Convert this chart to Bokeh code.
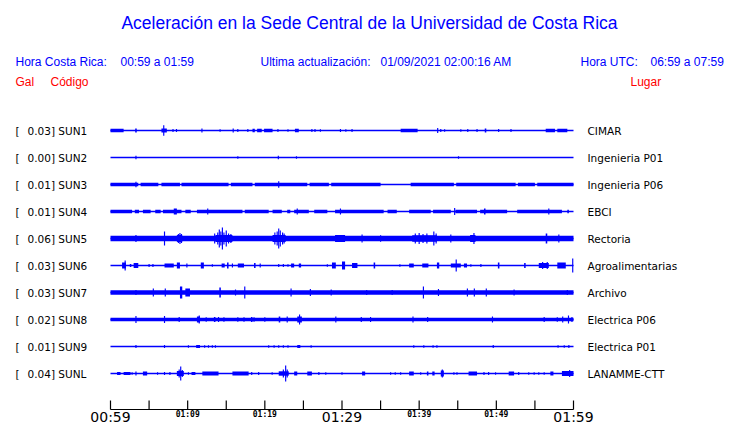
from bokeh.plotting import figure
from bokeh.models import Range1d, Label
from bokeh.core.properties import value
from bokeh.embed import file_html
from bokeh.resources import INLINE

# ---------------- data ----------------
codes = ["SUN1", "SUN2", "SUN3", "SUN4", "SUN5", "SUN6", "SUN7", "SUN8", "SUN9", "SUNL"]
peaks = ["0.03", "0.00", "0.01", "0.01", "0.06", "0.03", "0.03", "0.02", "0.01", "0.04"]
places = ["CIMAR", "Ingenieria P01", "Ingenieria P06", "EBCI", "Rectoria",
          "Agroalimentarias", "Archivo", "Electrica P06", "Electrica P01", "LANAMME-CTT"]

tick_minutes = [0, 10, 20, 30, 40, 50, 60]
tick_labels = ["00:59", "01:09", "01:19", "01:29", "01:39", "01:49", "01:59"]
tick_big = [True, False, False, True, False, False, True]
minor_minutes = [0, 5, 10, 15, 20, 25, 30, 35, 40, 45, 50, 55, 60]

# envelope events per station: (start minute, end minute, half amplitude)
sun1_events = [(0, 1.7, 1.7), (3.2, 3.4, 2), (6.6, 7.3, 2), (6.9, 6.9, 5.3), (8.1, 8.1, 1.5),
               (8.55, 8.55, 1.5), (11.8, 11.9, 2), (14.2, 14.2, 1.2), (15.9, 15.9, 2), (16.5, 16.5, 1.5),
               (17.8, 17.8, 1.5), (18.4, 18.7, 1.7), (19.0, 19.6, 1.7), (19.9, 21.0, 1.7), (21.7, 21.7, 1.5),
               (23.0, 23.0, 1.2), (23.9, 24.4, 1.7), (26.1, 26.1, 1.5), (26.5, 26.5, 1.5), (27.2, 27.2, 1.2),
               (29.8, 29.8, 1.5), (30.5, 30.5, 1.2), (31.3, 31.3, 1.5), (37.6, 39.8, 1.7), (42.4, 42.4, 2.5),
               (42.8, 42.8, 1.5), (43.3, 43.3, 1.2), (45.4, 45.4, 1.2), (46.3, 46.3, 1.5), (47.5, 47.5, 1.5),
               (48.5, 48.7, 2), (50.3, 50.3, 1.5), (51.9, 51.9, 1.5), (56.4, 57.6, 1.7), (57.9, 59.2, 1.7)]
sun2_events = [(3.3, 3.3, 1.7), (16.5, 16.5, 1.2), (21.7, 21.8, 1.7), (24.1, 24.1, 1.2), (45.1, 45.1, 1.2)]
sun3_events = [(0, 3.6, 1.7), (3.9, 6.2, 1.7), (6.6, 9.0, 1.7), (9.2, 15.3, 1.7), (15.6, 18.4, 1.7),
               (18.7, 25.5, 1.7), (25.8, 28.3, 1.7), (28.6, 35.0, 1.7), (38.9, 44.5, 1.7), (44.8, 52.5, 1.7),
               (52.8, 55.0, 1.7), (55.3, 60, 1.7), (3.3, 3.3, 2.7), (21.8, 21.8, 3.3)]
sun4_events = [(0, 2.8, 1.7), (3.15, 3.7, 1.7), (4.2, 5.2, 1.7), (5.8, 6.5, 1.7), (6.8, 9.2, 1.7),
               (9.7, 10.4, 1.7), (11.2, 17.1, 1.7), (17.4, 20.5, 1.7), (21.0, 22.2, 1.7), (22.9, 23.3, 1.7),
               (23.8, 25.7, 1.7), (26.4, 28.1, 1.7), (29.1, 35.4, 1.7), (35.9, 37.1, 1.7), (38.7, 41.5, 1.7),
               (41.8, 44.1, 1.7), (44.7, 47.5, 1.7), (47.9, 51.4, 1.7), (52.7, 58.5, 1.7), (59.2, 59.4, 1.7),
               (8.2, 8.6, 3), (12.6, 12.6, 3), (24.2, 24.2, 3), (29.8, 29.8, 3), (44.6, 44.6, 3.5),
               (48.4, 48.6, 3), (56.8, 56.8, 3)]
sun5_events = [(0, 60, 2.7), (3.3, 3.3, 3.5), (7.0, 7.0, 7), (8.6, 9.3, 3.5), (8.8, 8.8, 4.5),
               (9.0, 9.0, 5.5), (9.2, 9.2, 4.5),
               (13.6, 15.8, 3.5), (13.5, 13.5, 5), (13.9, 13.9, 6), (14.1, 14.1, 9), (14.3, 14.3, 7),
               (14.5, 14.5, 11), (14.7, 14.7, 6), (15.0, 15.0, 8), (15.3, 15.3, 5), (15.6, 15.6, 4.5),
               (21.0, 22.7, 3.5), (21.3, 21.3, 6), (21.6, 21.6, 7), (21.8, 21.8, 10), (22.0, 22.0, 8),
               (22.3, 22.3, 6), (22.5, 22.5, 5),
               (29.1, 30.4, 3.5), (32.6, 32.6, 4), (35.0, 35.0, 3.2),
               (39.1, 42.3, 3.3), (39.5, 39.5, 5), (40.0, 40.0, 5.5), (40.5, 40.5, 4.5), (41.0, 41.0, 5),
               (41.9, 41.9, 7), (42.2, 42.2, 5), (44.1, 44.1, 4), (46.6, 47.3, 3.5),
               (47.1, 47.1, 5.5), (56.4, 56.6, 5), (58.1, 58.1, 4)]
sun6_events = [(1.5, 2.0, 3), (1.9, 1.9, 5), (2.5, 2.7, 1.5), (3.0, 3.6, 2.5), (5.0, 5.0, 1.5),
               (5.5, 5.5, 1.5), (7.0, 8.2, 2), (8.6, 9.0, 3), (9.9, 9.9, 2), (11.7, 12.1, 3),
               (13.2, 13.2, 1.2), (14.4, 14.8, 2), (15.1, 15.3, 3), (15.8, 15.8, 2), (16.5, 17.3, 2),
               (18.6, 18.8, 2.5), (19.4, 19.4, 2), (21.8, 21.8, 1.5), (22.4, 22.4, 1.5), (23.0, 23.0, 1.2),
               (23.4, 23.8, 2), (24.4, 24.7, 2), (28.1, 28.1, 1.2), (28.7, 29.2, 3), (30.0, 30.4, 4),
               (31.3, 32.0, 2.5), (34.1, 34.3, 3), (37.5, 37.5, 1.2), (38.7, 39.3, 2), (40.4, 41.2, 2),
               (42.3, 42.6, 3), (44.1, 45.4, 2), (44.8, 44.8, 6), (45.8, 46.2, 2), (46.7, 46.7, 1.2),
               (48.0, 48.0, 1.5), (50.2, 50.4, 3), (53.6, 53.8, 2.5), (55.5, 56.8, 2.5), (56.0, 56.0, 3.5),
               (56.6, 56.6, 3.5), (57.9, 59.0, 3), (59.9, 59.9, 7)]
sun7_events = [(0, 60, 2.2), (3.3, 3.3, 2.5), (5.5, 5.6, 4), (7.1, 7.1, 4), (9.0, 9.3, 6),
               (9.7, 10.3, 4), (14.1, 14.3, 5), (16.2, 16.2, 3), (17.4, 17.4, 6), (23.4, 23.4, 4),
               (25.9, 25.9, 3.5), (28.6, 28.6, 3), (33.2, 33.2, 2.5), (36.5, 36.5, 2.5), (40.5, 40.6, 6),
               (42.5, 42.5, 3.5), (46.2, 46.3, 4), (47.1, 47.2, 4), (48.7, 48.7, 4), (52.3, 52.3, 3),
               (59.2, 59.2, 2.5)]
sun8_events = [(0, 60, 1.8), (3.3, 3.3, 3.5), (7.0, 7.0, 3.5), (8.9, 8.9, 2.5), (11.2, 11.6, 3),
               (11.5, 11.5, 4), (12.4, 12.4, 2.2), (13.4, 13.6, 2.5), (14.0, 14.0, 2.5), (14.7, 14.7, 2.2),
               (16.5, 16.5, 2.2), (17.3, 17.3, 2.2), (18.2, 18.4, 2.5), (18.6, 18.6, 2.2), (20.0, 20.0, 2.2),
               (21.8, 22.0, 3), (22.9, 22.9, 3), (24.2, 24.8, 3), (24.5, 24.5, 5), (29.2, 29.2, 3),
               (32.5, 32.5, 2.5), (33.7, 33.7, 2.5), (39.2, 39.2, 3), (41.1, 41.1, 2.5), (49.5, 49.5, 3),
               (56.2, 56.2, 2.5), (57.9, 57.9, 2.2), (58.6, 58.6, 3), (59.3, 59.4, 4), (59.8, 59.8, 2.5)]
sun9_events = [(3.3, 3.3, 1.5), (7.0, 7.0, 1.5), (10.1, 10.1, 1.2), (11.1, 11.6, 1.5), (12.2, 12.2, 1.2),
               (12.7, 12.7, 1.2), (13.2, 13.2, 1.2), (13.6, 13.6, 1.2), (20.5, 20.5, 1.2), (21.2, 21.2, 1.2),
               (21.8, 21.8, 1.2), (22.4, 22.4, 1.2), (23.0, 23.0, 1.2), (24.2, 24.6, 1.5), (26.0, 26.0, 1.2),
               (39.3, 39.3, 1.2), (40.6, 40.6, 1.2), (41.8, 41.8, 1.2), (42.3, 42.3, 1.2), (49.6, 49.6, 1.5),
               (58.0, 58.0, 1.2), (58.8, 58.8, 1.2), (59.4, 59.4, 1.5)]
sunl_events = [(0.85, 1.3, 1.5), (1.7, 2.6, 1.5), (2.8, 2.8, 1.2), (3.3, 3.3, 2), (4.2, 4.75, 2),
               (6.1, 6.1, 1.2), (7.0, 7.0, 1.5), (7.7, 7.7, 1.5), (8.6, 9.5, 2.5), (9.1, 9.1, 7),
               (8.9, 8.9, 4), (9.3, 9.3, 3.5),
               (10.1, 10.1, 1.2), (10.5, 11.0, 1.5), (11.9, 14.0, 2), (15.8, 17.9, 2), (18.3, 18.3, 1.5),
               (19.2, 19.2, 1.5), (20.95, 20.95, 1.2), (21.8, 23.1, 2.2), (22.7, 22.7, 8), (22.4, 22.4, 4),
               (22.9, 22.9, 4), (23.8, 24.2, 2),
               (25.5, 26.1, 2), (27.0, 27.0, 1.5), (27.9, 27.9, 1.2), (30.0, 30.0, 1.2), (32.6, 33.0, 2),
               (36.3, 36.3, 1.2), (36.9, 36.9, 1.2), (37.6, 37.6, 1.2), (38.7, 39.3, 2), (40.2, 40.2, 1.2),
               (41.0, 41.2, 2), (41.7, 42.0, 2), (42.8, 43.2, 3), (43.0, 43.0, 4), (44.5, 44.5, 1.2),
               (44.9, 44.9, 1.2), (46.4, 47.5, 2), (48.4, 48.4, 1.5), (49.0, 49.0, 1.5), (49.9, 49.9, 1.2),
               (51.6, 52.3, 2), (52.9, 52.9, 1.5), (54.2, 54.2, 1.2), (54.9, 54.9, 1.2), (55.5, 55.5, 1.2),
               (56.2, 56.2, 1.2), (57.0, 57.4, 2), (58.5, 60.0, 2.5), (59.5, 59.5, 3.5)]

all_events = [sun1_events, sun2_events, sun3_events, sun4_events, sun5_events,
              sun6_events, sun7_events, sun8_events, sun9_events, sunl_events]

# ---------------- layout ----------------
W, H = 740, 423
X0 = 110.0              # canvas x of minute 0
PXM = 463.0 / 60.0      # pixels per minute
ROW_TOP = 130.0         # canvas y (from top) of first trace
ROW_PX = 27.0           # spacing between traces
SPIKE_W = 0.15          # minimum width of a burst (minutes)

BLUE = "#0000FF"
RED = "#FF0000"

p = figure(width=W, height=H, output_backend="svg", toolbar_location=None,
           x_axis_type=None, y_axis_type=None, min_border=0,
           x_range=Range1d(-X0 / PXM, (W - X0) / PXM),
           y_range=Range1d(-(H - ROW_TOP) / ROW_PX, ROW_TOP / ROW_PX))
p.grid.visible = False
p.outline_line_color = None
p.background_fill_color = "white"
p.border_fill_color = "white"


def ydata(canvas_y):
    return -(canvas_y - ROW_TOP) / ROW_PX


# baselines
n = len(codes)
p.segment(x0=[0] * n, x1=[60] * n, y0=[-r for r in range(n)], y1=[-r for r in range(n)],
          line_color=BLUE, line_width=1.3)

# envelopes
L, R, B, T = [], [], [], []
for r, ev in enumerate(all_events):
    for t0, t1, a in ev:
        if t1 - t0 < SPIKE_W:
            c = 0.5 * (t0 + t1)
            t0, t1 = c - SPIKE_W / 2, c + SPIKE_W / 2
        L.append(max(t0, 0)); R.append(min(t1, 60))
        B.append(-r - a / ROW_PX); T.append(-r + a / ROW_PX)
p.quad(left=L, right=R, bottom=B, top=T, fill_color=BLUE, line_color=None)

# time axis
axis_y = ydata(409)
tick_top = ydata(400)
p.segment(x0=[0], x1=[60], y0=[axis_y], y1=[axis_y], line_color="black", line_width=1.2)
p.segment(x0=minor_minutes, x1=minor_minutes, y0=[axis_y] * len(minor_minutes),
          y1=[tick_top] * len(minor_minutes), line_color="black", line_width=1.2)

big_x = [m for m, b in zip(tick_minutes, tick_big) if b]
big_t = [t for t, b in zip(tick_labels, tick_big) if b]
sm_x = [m for m, b in zip(tick_minutes, tick_big) if not b]
sm_t = [t for t, b in zip(tick_labels, tick_big) if not b]
p.text(x=big_x, y=[ydata(416)] * len(big_x), text=big_t, text_align="center",
       text_baseline="middle", text_font=value("DejaVu Sans"), text_font_size="14px",
       text_color="black")
p.text(x=sm_x, y=[ydata(414)] * len(sm_x), text=sm_t, text_align="center",
       text_baseline="middle", text_font=value("DejaVu Sans Mono"), text_font_size="8px",
       text_font_style="bold", text_color="black")


# row labels
def lbl(x, y, text, size, color="black", font="DejaVu Sans", align="left"):
    p.add_layout(Label(x=x, y=H - y, x_units="screen", y_units="screen",
                       text=text, text_font=font, text_font_size=size, text_color=color,
                       text_baseline="middle", text_align=align))


for r in range(n):
    yy = ROW_TOP + ROW_PX * r
    lbl(15, yy, "[", "10.5px")
    lbl(27, yy, peaks[r] + "] " + codes[r], "10.5px")
    lbl(587, yy, places[r], "10.5px")

# header texts
lbl(369, 22, "Aceleración en la Sede Central de la Universidad de Costa Rica", "17.5px",
    BLUE, "Liberation Sans", "center")
lbl(15, 61, "Hora Costa Rica:", "12px", BLUE, "Liberation Sans")
lbl(120, 61, "00:59 a 01:59", "12px", BLUE, "Liberation Sans")
lbl(260, 61, "Ultima actualización:", "12px", BLUE, "Liberation Sans")
lbl(380, 61, "01/09/2021 02:00:16 AM", "12px", BLUE, "Liberation Sans")
lbl(580, 61, "Hora UTC:", "12px", BLUE, "Liberation Sans")
lbl(650, 61, "06:59 a 07:59", "12px", BLUE, "Liberation Sans")
lbl(15, 81, "Gal", "12px", RED, "Liberation Sans")
lbl(50, 81, "Código", "12px", RED, "Liberation Sans")
lbl(630, 81, "Lugar", "12px", RED, "Liberation Sans")

open("out.html", "w").write(file_html(p, INLINE))
